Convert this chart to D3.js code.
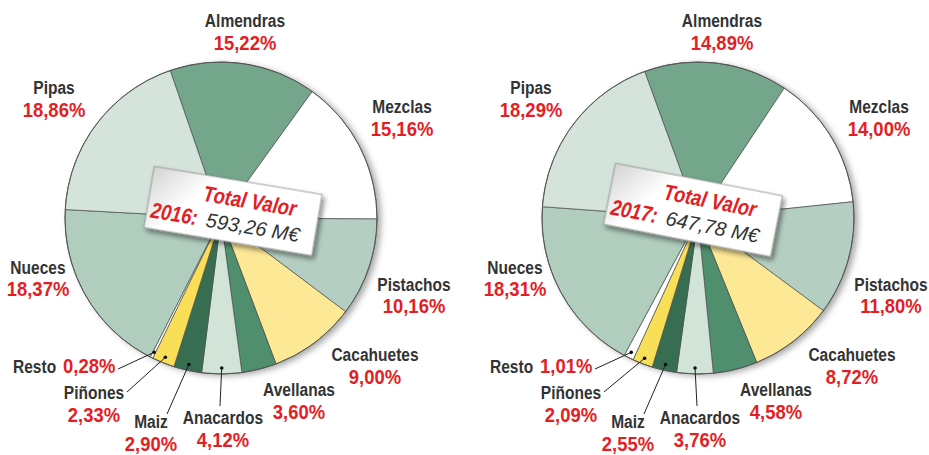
<!DOCTYPE html>
<html>
<head>
<meta charset="utf-8">
<script src="https://cdn.jsdelivr.net/npm/d3@7"></script>
<style>
  body { margin: 0; background: #fff; }
  svg { display: block; }
</style>
</head>
<body>
<svg id="chart" width="929" height="455"></svg>
<script>
// Data
const categories = ["Almendras", "Mezclas", "Pistachos", "Cacahuetes", "Avellanas", "Anacardos", "Maiz", "Piñones", "Resto", "Nueces", "Pipas"];
const values2016 = [15.22, 15.16, 10.16, 9.00, 3.60, 4.12, 2.90, 2.33, 0.28, 18.37, 18.86];
const values2017 = [14.89, 14.00, 11.80, 8.72, 4.58, 3.76, 2.55, 2.09, 1.01, 18.31, 18.29];
const years = ["2016", "2017"];
const totals = ["593,26 M€", "647,78 M€"];

const colors = ["#74a68b", "#ffffff", "#b4cfc1", "#fde896", "#4f8f6e", "#d2e3d8",
                "#376e52", "#f9df57", "#ffffff", "#b0cdbd", "#d5e4da"];

// label placement, relative to pie centre: [x, yName, yPct]
const labelPos = {
    "Almendras": [24, -191, -168],
    "Mezclas": [181, -105, -82],
    "Pistachos": [193, 73, 95],
    "Cacahuetes": [154, 143, 166],
    "Avellanas": [78, 178, 201],
    "Anacardos": [2, 206, 229],
    "Maiz": [-70, 210, 233],
    "Piñones": [-127, 181, 204],
    "Nueces": [-183, 56, 78],
    "Pipas": [-167, -124, -101]
};
// leader line start for the small slices
const leaderStart = {
    "Resto": [-103, 151],
    "Piñones": [-94, 174],
    "Maiz": [-54, 196],
    "Anacardos": [-1, 188]
};

const charts = [
    { values: values2016, year: years[0], total: totals[0], cx: 221, cy: 218, start: -19, box: [12, -7, 9.5] },
    { values: values2017, year: years[1], total: totals[1], cx: 698, cy: 218, start: -20, box: [-5, -8, 11] }
];

const radius = 156;
const font = "'Liberation Sans', Arial, sans-serif";
const fmtPct = v => d3.format(".2f")(v).replace(".", ",") + "%";

// condensed text: squeeze horizontally around its anchor
function label(parent, x, y, str, o) {
    return parent.append("text")
        .attr("transform", `translate(${x}, ${y}) scale(${o.sx || 1}, 1)`)
        .attr("text-anchor", o.anchor || "middle")
        .style("font-family", font)
        .style("font-weight", o.weight || "bold")
        .style("font-style", o.italic ? "italic" : "normal")
        .style("font-size", o.size + "px")
        .attr("fill", o.fill)
        .text(str);
}

const svg = d3.select("#chart");
const defs = svg.append("defs");

const pieShadow = defs.append("filter").attr("id", "pieShadow")
    .attr("x", "-20%").attr("y", "-20%").attr("width", "140%").attr("height", "140%");
pieShadow.append("feDropShadow")
    .attr("dx", 4).attr("dy", 2).attr("stdDeviation", 3)
    .attr("flood-color", "#000").attr("flood-opacity", 0.35);

const boxShadow = defs.append("filter").attr("id", "boxShadow")
    .attr("x", "-20%").attr("y", "-30%").attr("width", "140%").attr("height", "160%");
boxShadow.append("feDropShadow")
    .attr("dx", 3).attr("dy", 3).attr("stdDeviation", 2.5)
    .attr("flood-color", "#000").attr("flood-opacity", 0.45);

const boxGrad = defs.append("linearGradient").attr("id", "boxGrad")
    .attr("x1", "0%").attr("y1", "0%").attr("x2", "100%").attr("y2", "30%");
boxGrad.append("stop").attr("offset", "0%").attr("stop-color", "#d4d4d4");
boxGrad.append("stop").attr("offset", "35%").attr("stop-color", "#ffffff");
boxGrad.append("stop").attr("offset", "100%").attr("stop-color", "#ffffff");

const arc = d3.arc().innerRadius(0).outerRadius(radius);
const nameStyle = { size: 18.5, sx: 0.84, fill: "#333" };
const pctStyle = { size: 20.5, sx: 0.9, fill: "#e31e24" };

charts.forEach(c => {
    const rad = c.start * Math.PI / 180;
    const pie = d3.pie().sort(null).value(d => d)
        .startAngle(rad).endAngle(rad + 2 * Math.PI);
    const arcs = pie(c.values);

    const ctr = svg.append("g").attr("transform", `translate(${c.cx}, ${c.cy})`);

    // shadow disc
    ctr.append("circle").attr("r", radius)
        .attr("fill", "#fff").attr("filter", "url(#pieShadow)");

    ctr.selectAll("path.slice")
        .data(arcs)
        .join("path")
        .attr("class", "slice")
        .attr("d", arc)
        .attr("fill", (d, i) => colors[i])
        .attr("stroke", "#4a4a4a")
        .attr("stroke-width", 0.7);

    ctr.append("circle").attr("r", radius)
        .attr("fill", "none").attr("stroke", "#555").attr("stroke-width", 1);

    // leader lines + dots
    const dotArc = d3.arc().innerRadius(radius - 6).outerRadius(radius - 6);
    arcs.forEach((d, i) => {
        const name = categories[i];
        if (!leaderStart[name]) return;
        const p = dotArc.centroid(d);
        const s = leaderStart[name];
        ctr.append("line")
            .attr("x1", s[0]).attr("y1", s[1]).attr("x2", p[0]).attr("y2", p[1])
            .attr("stroke", "#222").attr("stroke-width", 1);
        ctr.append("circle").attr("cx", p[0]).attr("cy", p[1]).attr("r", 1.8).attr("fill", "#111");
    });

    // labels
    arcs.forEach((d, i) => {
        const name = categories[i];
        if (name === "Resto") {
            label(ctr, -208, 155, name, { ...nameStyle, anchor: "start" });
            label(ctr, -158, 155, fmtPct(c.values[i]), { ...pctStyle, anchor: "start" });
            return;
        }
        const pos = labelPos[name];
        label(ctr, pos[0], pos[1], name, nameStyle);
        label(ctr, pos[0], pos[2], fmtPct(c.values[i]), pctStyle);
    });

    // total box
    const box = ctr.append("g")
        .attr("transform", `translate(${c.box[0]}, ${c.box[1]}) rotate(${c.box[2]})`);
    box.append("rect")
        .attr("x", -85).attr("y", -31).attr("width", 170).attr("height", 62)
        .attr("fill", "url(#boxGrad)").attr("stroke", "#8a8a8a").attr("stroke-width", 0.8)
        .attr("filter", "url(#boxShadow)");
    label(box, -32, -5, "Total Valor", { size: 22, sx: 0.84, italic: true, fill: "#e31e24", anchor: "start" });
    label(box, -81, 20, c.year + ":", { size: 22, sx: 0.84, italic: true, fill: "#e31e24", anchor: "start" });
    label(box, -25, 20, c.total, { size: 20, weight: "normal", italic: true, fill: "#333", anchor: "start" });
});
</script>
</body>
</html>
